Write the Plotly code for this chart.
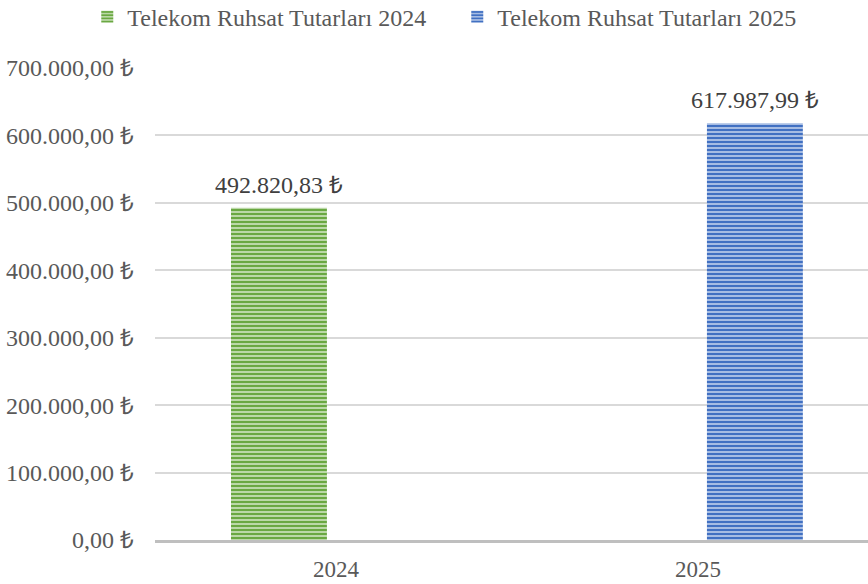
import plotly.graph_objects as go

# Telekom ruhsat tutarları (TL)
categories = ["2024", "2025"]
series_names = ["Telekom Ruhsat Tutarları 2024", "Telekom Ruhsat Tutarları 2025"]
values_2024 = [492820.83]
values_2025 = [617987.99]
y_ticks = [0, 100000, 200000, 300000, 400000, 500000, 600000, 700000]


def tl(v):
    # Turkish number format: 1.234.567,89 ₺
    s = f"{v:,.2f}".replace(",", "_").replace(".", ",").replace("_", ".")
    return s + " ₺"


FONT = "Liberation Serif"
TEXT_COLOR = "#595959"
LABEL_COLOR = "#404040"
FS = 24

BAR_W = 0.265
series = [
    dict(name=series_names[0], x=categories[0], y=values_2024, offset=-0.29,
         dark="#6AA842", light="#CFE5C0"),
    dict(name=series_names[1], x=categories[1], y=values_2025, offset=0.025,
         dark="#4170C2", light="#C0CFEC"),
]

fig = go.Figure()
for s in series:
    fig.add_trace(go.Bar(
        name=s["name"],
        x=[s["x"]],
        y=s["y"],
        width=BAR_W,
        offset=s["offset"],
        marker=dict(
            color=s["light"],
            line=dict(width=0),
            pattern=dict(shape="-", fgcolor=s["dark"], bgcolor=s["light"],
                         size=4, solidity=0.6, fgopacity=1),
        ),
        hovertemplate="%{y:,.2f} ₺<extra></extra>",
    ))

# value labels above each bar
cat_index = {c: i for i, c in enumerate(categories)}
annotations = []
for s in series:
    for v in s["y"]:
        annotations.append(dict(
            x=cat_index[s["x"]] + s["offset"] + BAR_W / 2,
            y=v,
            xref="x", yref="y",
            text=tl(v),
            showarrow=False,
            yanchor="bottom",
            yshift=8,
            font=dict(family=FONT, size=FS, color=LABEL_COLOR),
        ))

fig.update_layout(
    width=868,
    height=584,
    margin=dict(l=155, r=0, t=68, b=44, autoexpand=False),
    paper_bgcolor="white",
    plot_bgcolor="white",
    barmode="overlay",
    font=dict(family=FONT, size=FS, color=TEXT_COLOR),
    showlegend=True,
    annotations=annotations,
    legend=dict(
        orientation="h",
        x=-0.095, xanchor="left",
        y=1.06, yanchor="bottom",
        font=dict(family=FONT, size=FS, color=TEXT_COLOR),
        entrywidth=325,
        entrywidthmode="pixels",
        itemwidth=30,
        bgcolor="rgba(0,0,0,0)",
    ),
    xaxis=dict(
        type="category",
        categoryorder="array",
        categoryarray=categories,
        range=[-0.5, 1.47],
        showgrid=False,
        showline=True,
        linecolor="#BFBFBF",
        linewidth=3,
        ticks="",
        tickfont=dict(family=FONT, size=FS - 1, color=TEXT_COLOR),
        ticklabelstandoff=6,
    ),
    yaxis=dict(
        range=[0, 700000],
        tickvals=y_ticks,
        ticktext=[tl(v) for v in y_ticks],
        showgrid=True,
        gridcolor="#D9D9D9",
        gridwidth=1.5,
        zeroline=False,
        showline=False,
        ticks="",
        tickfont=dict(family=FONT, size=FS, color=TEXT_COLOR),
        ticklabelstandoff=20,
    ),
)

fig.write_html("out.html")
